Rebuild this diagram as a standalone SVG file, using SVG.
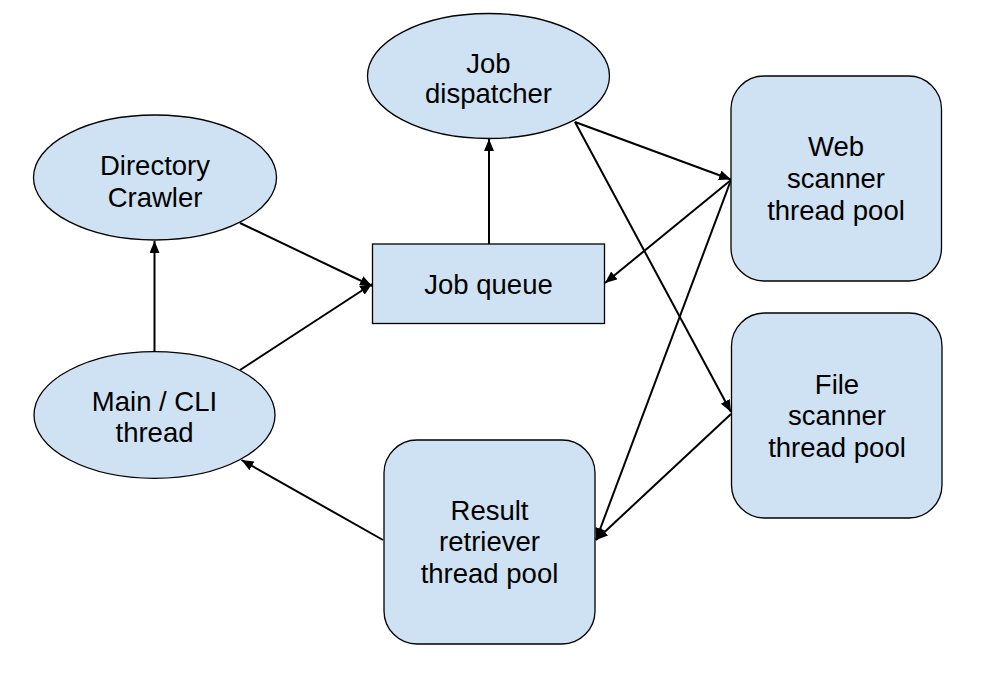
<svg xmlns="http://www.w3.org/2000/svg" width="1000" height="677" viewBox="0 0 1000 677">
<style>
.n{fill:#cfe2f3;stroke:#000;stroke-width:1.3}
.t{font-family:"Liberation Sans",Arial,sans-serif;font-size:27.5px;fill:#000;text-anchor:middle}
.c{stroke:#000;stroke-width:2;fill:none;marker-end:url(#ah)}
</style>
<defs>
<marker id="ah" markerUnits="userSpaceOnUse" markerWidth="13" markerHeight="11" refX="12" refY="5" orient="auto">
<path d="M0,0 L12,5 L0,10 Z" fill="#000"/>
</marker>
</defs>
<rect width="1000" height="677" fill="#fff"/>
<g id="connectors">
<line class="c" x1="240" y1="223" x2="372" y2="286"/>
<line class="c" x1="240" y1="370" x2="372" y2="284"/>
<line class="c" x1="154.5" y1="352" x2="154.5" y2="241"/>
<line class="c" x1="489" y1="244" x2="489" y2="139"/>
<line class="c" x1="575" y1="122" x2="731" y2="179.5"/>
<line class="c" x1="575" y1="122" x2="731" y2="412"/>
<line class="c" x1="731" y1="180" x2="605" y2="283"/>
<line class="c" x1="731" y1="180" x2="596" y2="540"/>
<line class="c" x1="731" y1="414" x2="596" y2="540"/>
<line class="c" x1="383" y1="540" x2="241.5" y2="460"/>
</g>
<g id="dispatcher">
<ellipse class="n" cx="488.5" cy="76" rx="121" ry="62.5"/>
<text class="t" x="488.5" y="73">Job</text>
<text class="t" x="488.5" y="103">dispatcher</text>
</g>
<g id="crawler">
<ellipse class="n" cx="155" cy="177.5" rx="121.5" ry="62.5"/>
<text class="t" x="155" y="175">Directory</text>
<text class="t" x="155" y="206.5">Crawler</text>
</g>
<g id="main">
<ellipse class="n" cx="154.5" cy="415" rx="120.5" ry="63.3"/>
<text class="t" x="154.5" y="411">Main / CLI</text>
<text class="t" x="154.5" y="442">thread</text>
</g>
<g id="jobqueue">
<rect class="n" x="372.5" y="244" width="232" height="79.5"/>
<text class="t" x="488.5" y="294">Job queue</text>
</g>
<g id="web">
<rect class="n" x="731" y="76" width="210.5" height="205" rx="33" ry="33"/>
<text class="t" x="836" y="156">Web</text>
<text class="t" x="836" y="188">scanner</text>
<text class="t" x="836" y="220">thread pool</text>
</g>
<g id="file">
<rect class="n" x="731.5" y="313" width="210.5" height="205" rx="33" ry="33"/>
<text class="t" x="837" y="394">File</text>
<text class="t" x="837" y="425">scanner</text>
<text class="t" x="837" y="456.5">thread pool</text>
</g>
<g id="result">
<rect class="n" x="384" y="440" width="211" height="204" rx="33" ry="33"/>
<text class="t" x="489.5" y="519.5">Result</text>
<text class="t" x="489.5" y="551">retriever</text>
<text class="t" x="489.5" y="583">thread pool</text>
</g>
</svg>
